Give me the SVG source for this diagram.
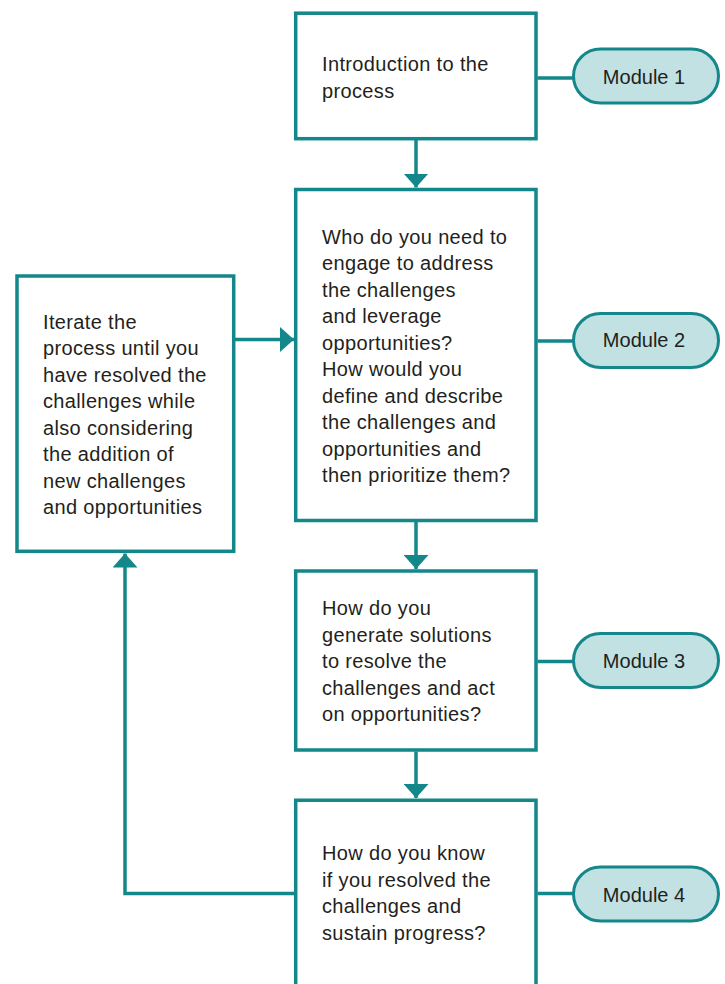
<svg xmlns="http://www.w3.org/2000/svg" width="725" height="984" viewBox="0 0 725 984">
<style>
.box{fill:#ffffff;stroke:#13878a;stroke-width:3.5}
.pill{fill:#c2e1e2;stroke:#13878a;stroke-width:3}
.conn{fill:none;stroke:#13878a;stroke-width:3.5}
.t{font-family:"Liberation Sans",Arial,sans-serif;font-size:20px;fill:#231f20;letter-spacing:0.35px}
.m{font-family:"Liberation Sans",Arial,sans-serif;font-size:20px;fill:#231f20;text-anchor:middle}
</style>
<defs>
<marker id="ah" viewBox="0 0 14 25" refX="14" refY="12.5" markerWidth="14" markerHeight="25" markerUnits="userSpaceOnUse" orient="auto">
<path d="M0,0 L14,12.5 L0,25 Z" fill="#13878a"/>
</marker>
</defs>
<g id="connectors">
<line class="conn" x1="416" y1="140" x2="416" y2="187.5" marker-end="url(#ah)"/>
<line class="conn" x1="416" y1="522" x2="416" y2="569" marker-end="url(#ah)"/>
<line class="conn" x1="416" y1="751.5" x2="416" y2="798" marker-end="url(#ah)"/>
<line class="conn" x1="235" y1="339.5" x2="294" y2="339.5" marker-end="url(#ah)"/>
<path class="conn" d="M295 893.5 H125 V553.5" marker-end="url(#ah)"/>
<line class="conn" x1="537.5" y1="78" x2="573" y2="78"/>
<line class="conn" x1="537.5" y1="341" x2="573" y2="341"/>
<line class="conn" x1="537.5" y1="661.5" x2="573" y2="661.5"/>
<line class="conn" x1="537.5" y1="893.5" x2="573" y2="893.5"/>
</g>
<g id="box1">
<rect class="box" x="295.7" y="13.2" width="240.3" height="125.5"/>
<text class="t" x="322" y="71">Introduction to the</text>
<text class="t" x="322" y="97.5">process</text>
</g>
<g id="box2">
<rect class="box" x="295.7" y="189.5" width="240.3" height="331"/>
<text class="t" x="322" y="243.5">Who do you need to</text>
<text class="t" x="322" y="270">engage to address</text>
<text class="t" x="322" y="296.5">the challenges</text>
<text class="t" x="322" y="323">and leverage</text>
<text class="t" x="322" y="349.5">opportunities?</text>
<text class="t" x="322" y="376">How would you</text>
<text class="t" x="322" y="402.5">define and describe</text>
<text class="t" x="322" y="429">the challenges and</text>
<text class="t" x="322" y="455.5">opportunities and</text>
<text class="t" x="322" y="482">then prioritize them?</text>
</g>
<g id="box3">
<rect class="box" x="295.7" y="571" width="240.3" height="179"/>
<text class="t" x="322" y="615">How do you</text>
<text class="t" x="322" y="641.5">generate solutions</text>
<text class="t" x="322" y="668">to resolve the</text>
<text class="t" x="322" y="694.5">challenges and act</text>
<text class="t" x="322" y="721">on opportunities?</text>
</g>
<g id="box4">
<path class="box" d="M295.7 992 V800.2 H536 V992"/>
<text class="t" x="322" y="860">How do you know</text>
<text class="t" x="322" y="886.5">if you resolved the</text>
<text class="t" x="322" y="913">challenges and</text>
<text class="t" x="322" y="939.5">sustain progress?</text>
</g>
<g id="iterate">
<rect class="box" x="17" y="276" width="216.7" height="275.3"/>
<text class="t" x="43" y="328.5">Iterate the</text>
<text class="t" x="43" y="355">process until you</text>
<text class="t" x="43" y="381.5">have resolved the</text>
<text class="t" x="43" y="408">challenges while</text>
<text class="t" x="43" y="434.5">also considering</text>
<text class="t" x="43" y="461">the addition of</text>
<text class="t" x="43" y="487.5">new challenges</text>
<text class="t" x="43" y="514">and opportunities</text>
</g>
<g id="module1">
<rect class="pill" x="573.5" y="49" width="145" height="54" rx="27"/>
<text class="m" x="644" y="84.3">Module 1</text>
</g>
<g id="module2">
<rect class="pill" x="573.5" y="313.5" width="145" height="54" rx="27"/>
<text class="m" x="644" y="347">Module 2</text>
</g>
<g id="module3">
<rect class="pill" x="573.5" y="633.5" width="145" height="54" rx="27"/>
<text class="m" x="644" y="668.3">Module 3</text>
</g>
<g id="module4">
<rect class="pill" x="573.5" y="867" width="145" height="54" rx="27"/>
<text class="m" x="644" y="901.7">Module 4</text>
</g>
</svg>
